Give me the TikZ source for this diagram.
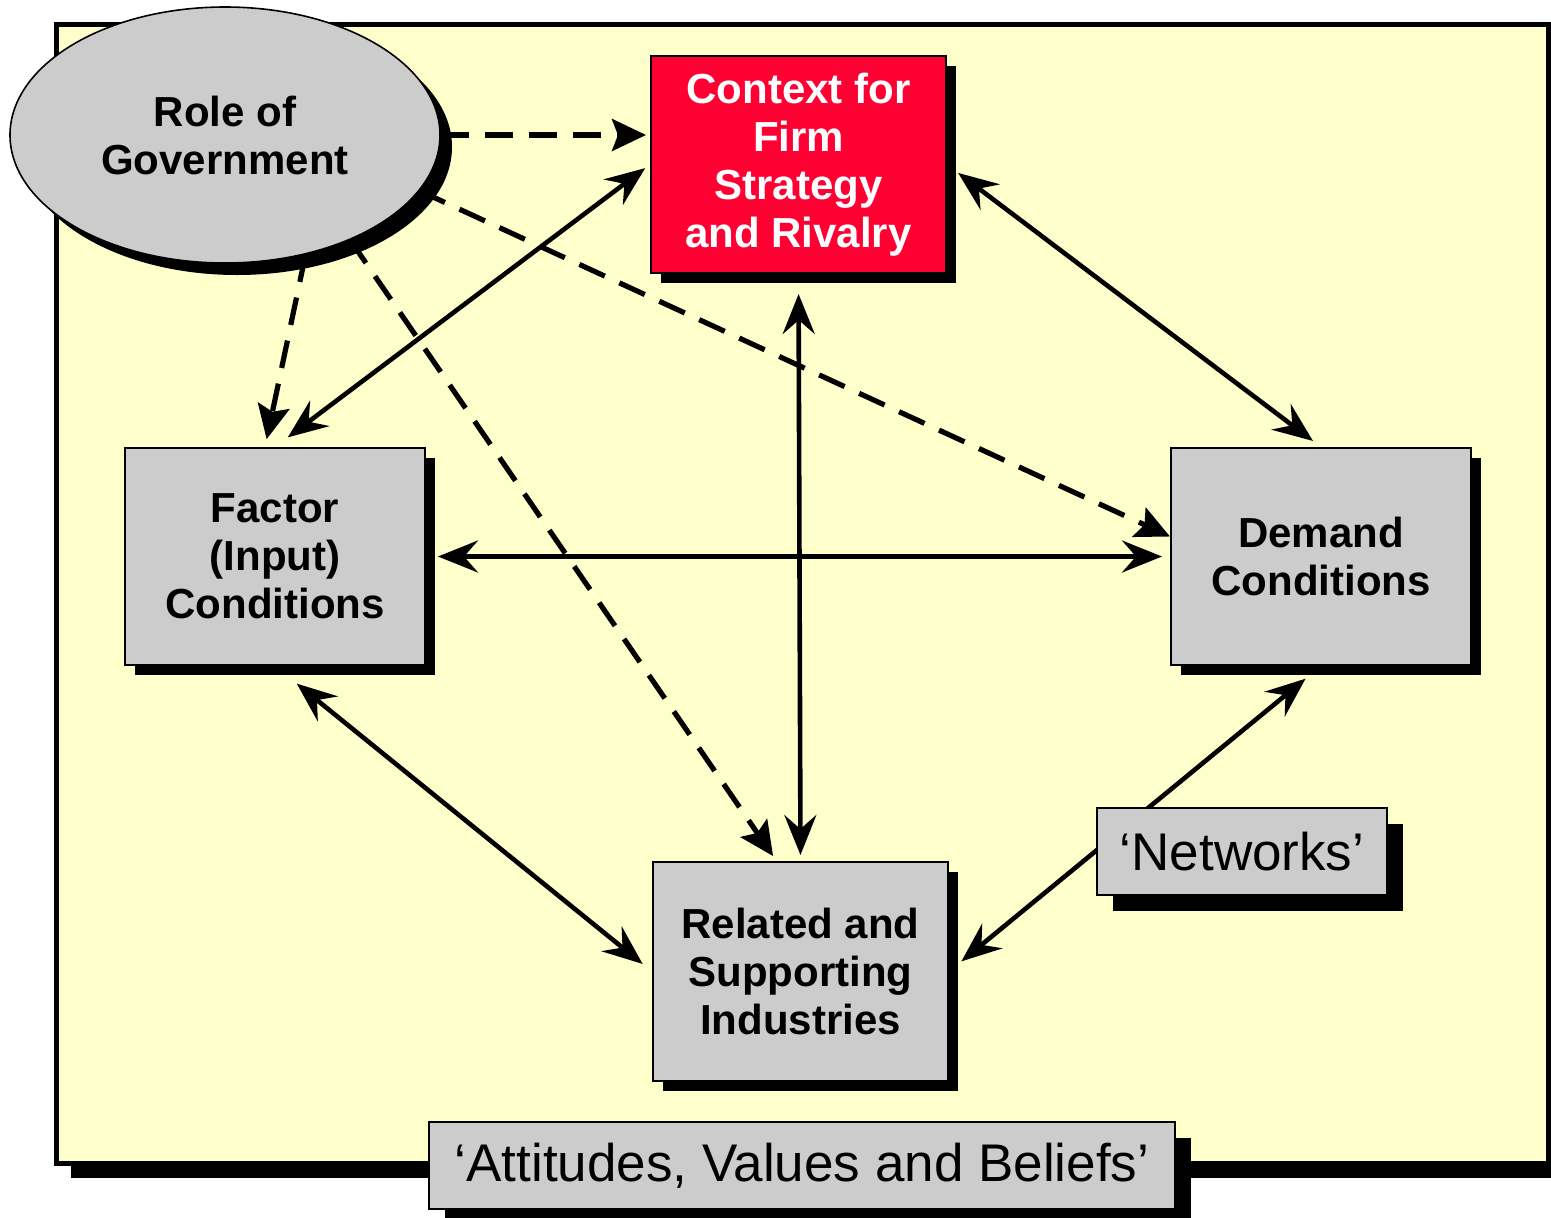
\documentclass[tikz,border=0pt]{standalone}
\usepackage{fontspec}
\setmainfont{Liberation Sans}
\usetikzlibrary{shapes.geometric,shadows,arrows.meta}
\definecolor{frameyellow}{HTML}{FFFFCC}
\definecolor{boxgray}{HTML}{CCCCCC}
\definecolor{firmred}{HTML}{FF0033}

\begin{document}
\begin{tikzpicture}
  [x=0.5pt,y=-0.5pt,
    shade5/.style={drop shadow={shadow xshift=5pt,shadow yshift=-5pt,fill=black,opacity=1}},
    shade8/.style={drop shadow={shadow xshift=8pt,shadow yshift=-8pt,fill=black,opacity=1}},
    box/.style={draw,line width=1pt,fill=boxgray,inner sep=0pt,align=center,
      minimum width=150pt,minimum height=108.5pt,
      font=\fontsize{21}{24}\selectfont\bfseries,shade5},
    tag/.style={draw,line width=1pt,fill=boxgray,inner sep=0pt,
      minimum height=43.5pt,font=\fontsize{26.5}{30}\selectfont,shade8},
    link/.style={line width=2.3pt,
      {Stealth[length=20pt,width=16pt,inset=7pt]}-{Stealth[length=20pt,width=16pt,inset=7pt]},
      shorten <=4pt,shorten >=4pt},
    govlink/.style={line width=2.6pt,dash pattern=on 14pt off 8pt,
      -{Stealth[length=17pt,width=16pt,inset=3pt]}},
]
  \useasboundingbox (0,0) rectangle (1551,1217);

  % frame
  \fill[black] (71,39) rectangle (1563,1178);
  \draw[line width=2.5pt,fill=frameyellow] (56,24) rectangle (1548,1163);

  \node[ellipse,draw,line width=0.8pt,fill=boxgray,inner sep=0pt,
    minimum width=215pt,minimum height=128pt,align=center,
    font=\fontsize{21}{24}\selectfont\bfseries,
    drop shadow={shadow xshift=6pt,shadow yshift=-6pt,fill=black,opacity=1}]
    (gov) at (225,135) {Role of\\Government};

  \node[box,fill=firmred,text=white,minimum width=147.5pt] (ctx) at (798.5,164.5)
    {Context for\\Firm\\Strategy\\and Rivalry};
  \node[box] (fac) at (275,556.5) {Factor\\(Input)\\Conditions};
  \node[box] (dem) at (1321,556.5) {Demand\\Conditions};
  \node[box,minimum width=147.5pt,minimum height=109.5pt] (rel) at (800.5,971.5)
    {Related and\\Supporting\\Industries};

  \draw[govlink,shorten >=2pt] (gov.east) -- (gov.east -| ctx.west);
  \draw[govlink,shorten >=4pt] (gov.-56) -- ([xshift=-5pt]fac.north);
  \draw[govlink,shorten >=3pt] (gov.-40) -- ([xshift=-12pt]rel.north);
  \draw[govlink] (gov.-16) -- ([yshift=10pt]dem.west);

  \draw[link,shorten <=8pt,shorten >=3pt] (fac.north) -- (ctx.west);
  \draw[link,shorten <=7pt,shorten >=5pt] (ctx.east) -- (dem.north);
  \draw[link,shorten <=10pt,shorten >=3pt] (ctx.south) -- (rel.north);
  \draw[link,shorten <=6pt] (fac.east) -- (dem.west);
  \draw[link,shorten <=14pt,shorten >=6pt] (fac.south) -- (rel.west);
  \draw[link,shorten <=10pt,shorten >=8pt] (dem.south) -- (rel.east);

  \node[tag,minimum width=145pt] (net) at (1242,851.5) {‘Networks’};
  \node[tag,minimum width=373pt] (avb) at (802,1165.5) {‘Attitudes, Values and Beliefs’};

\end{tikzpicture}
\end{document}
